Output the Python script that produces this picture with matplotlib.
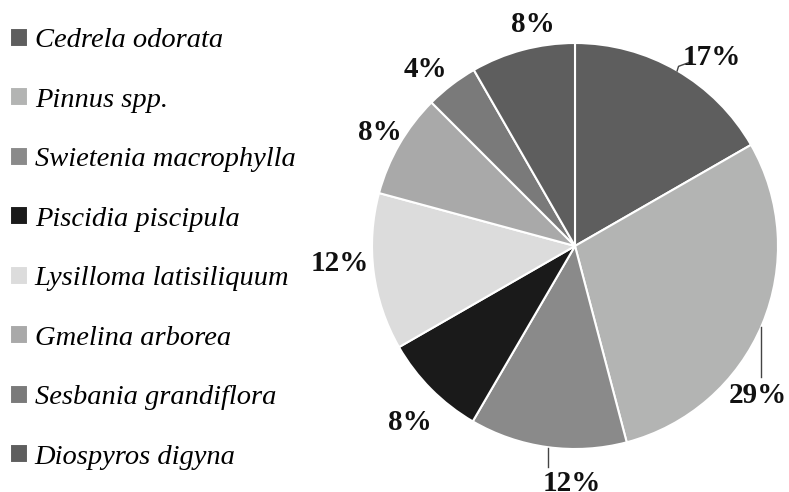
import matplotlib
matplotlib.use('Agg')
import matplotlib.pyplot as plt

# species and their share of the trees
species = ['Cedrela odorata', 'Pinnus spp.', 'Swietenia macrophylla',
           'Piscidia piscipula', 'Lysilloma latisiliquum', 'Gmelina arborea',
           'Sesbania grandiflora', 'Diospyros digyna']
shares = [16.7, 29.2, 12.5, 8.3, 12.5, 8.3, 4.2, 8.3]
pct_labels = ['17%', '29%', '12%', '8%', '12%', '8%', '4%', '8%']
colors = ['#5e5e5e', '#b3b4b3', '#8a8a8a', '#1a1a1a',
          '#dcdcdc', '#a9a9a9', '#7a7a7a', '#5e5e5e']

# label positions in pie-radius units (relative to pie centre)
label_pos = [(0.675, 0.931), (0.90, -0.734), (-0.015, -1.17), (-0.813, -0.867),
             (-1.158, -0.084), (-0.96, 0.56), (-0.739, 0.867), (-0.207, 1.089)]

fig = plt.figure(figsize=(7.89, 4.92), dpi=100)
ax = fig.add_axes([0, 0, 1, 1])

# axes limits chosen so the pie centre sits at (575, 246) px with radius 203 px
r_px = 203.0
wedges, _ = ax.pie(shares, colors=colors, startangle=90, counterclock=False,
                   radius=1.0, wedgeprops=dict(edgecolor='white', linewidth=1.5))
ax.set_xlim(-575 / r_px, (789 - 575) / r_px)
ax.set_ylim(-(492 - 246) / r_px, 246 / r_px)
ax.set_aspect('auto')
ax.axis('off')

for txt, (x, y) in zip(pct_labels, label_pos):
    ax.text(x, y, txt, ha='center', va='center', fontsize=21,
            fontweight='bold', family='Liberation Serif', color='#111111')

# leader lines
ax.plot([0.503, 0.51, 0.565], [0.862, 0.885, 0.905], color='#444444', lw=1)
ax.plot([0.916, 0.916], [-0.40, -0.645], color='#444444', lw=1)
ax.plot([-0.133, -0.133], [-0.995, -1.089], color='#444444', lw=1)

fig.legend(wedges, species, loc='upper left', bbox_to_anchor=(-0.013, 0.984),
           frameon=False, prop={'family': 'Liberation Serif', 'style': 'italic', 'size': 20.5},
           handlelength=0.66, handleheight=0.66, handletextpad=0.22,
           labelspacing=1.19, borderaxespad=0.3)

plt.savefig('out.png', dpi=100)
